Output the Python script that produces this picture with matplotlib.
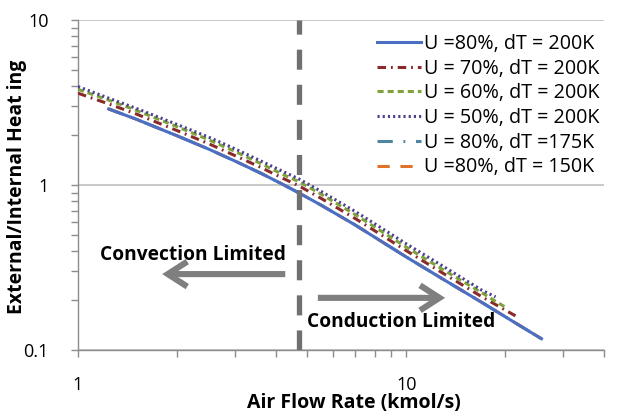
import matplotlib
matplotlib.use("Agg")
import matplotlib.pyplot as plt
from matplotlib.ticker import LogLocator, NullFormatter, FixedLocator, FixedFormatter

plt.rcParams['font.family'] = ['Open Sans', 'DejaVu Sans']

# ---- data ----
x_u80 = [1.24, 1.5, 2, 2.5, 3, 3.6, 4.2, 4.7, 5.5, 7, 10, 13, 17, 21, 25.8]
y_u80 = [2.89, 2.51, 1.99, 1.65, 1.40, 1.18, 1.01, 0.897, 0.755, 0.571, 0.366, 0.267, 0.194, 0.150, 0.117]

x_u70 = [1, 1.24, 1.5, 2, 2.5, 3, 3.6, 4.2, 4.7, 5.5, 7, 10, 13, 17, 21.5]
y_u70 = [3.6, 3.10, 2.70, 2.14, 1.78, 1.51, 1.28, 1.10, 0.99, 0.83, 0.625, 0.40, 0.29, 0.21, 0.161]

x_u60 = [1, 1.24, 1.5, 2, 2.5, 3, 3.6, 4.2, 4.7, 5.5, 7, 10, 13, 17, 20]
y_u60 = [3.8, 3.27, 2.84, 2.26, 1.88, 1.60, 1.35, 1.16, 1.05, 0.88, 0.66, 0.42, 0.305, 0.222, 0.182]

x_u50 = [1, 1.24, 1.5, 2, 2.5, 3, 3.6, 4.2, 4.7, 5.5, 7, 10, 13, 17, 18.7]
y_u50 = [3.95, 3.36, 2.92, 2.33, 1.95, 1.66, 1.40, 1.21, 1.09, 0.915, 0.69, 0.44, 0.32, 0.23, 0.21]

x_dt175 = [1.24, 1.5, 2, 2.5, 3, 3.6, 4.2, 4.7, 5.5, 7, 10, 13, 17, 21, 25.8]
y_dt175 = [2.89, 2.51, 1.99, 1.65, 1.40, 1.18, 1.01, 0.897, 0.755, 0.571, 0.366, 0.267, 0.194, 0.150, 0.117]

x_dt150 = [1.24, 1.5, 2, 2.5, 3, 3.6, 4.2, 4.7, 5.5, 7, 10, 13, 17, 21, 25.8]
y_dt150 = [2.89, 2.51, 1.99, 1.65, 1.40, 1.18, 1.01, 0.897, 0.755, 0.571, 0.366, 0.267, 0.194, 0.150, 0.117]

labels = ["U =80%, dT = 200K", "U = 70%, dT = 200K", "U = 60%, dT = 200K",
          "U = 50%, dT = 200K", "U = 80%, dT =175K", "U =80%, dT = 150K"]

boundary_x = 4.7

x_ticks = [1, 10]
x_ticklabels = ["1", "10"]
y_ticks = [0.1, 1, 10]
y_ticklabels = ["0.1", "1", "10"]

# ---- figure ----
fig = plt.figure(figsize=(6.24, 4.13), dpi=100)
ax = fig.add_axes([78/624, 1-350/413, 526/624, 330/413])
ax.set_xscale('log')
ax.set_yscale('log')
ax.set_xlim(1, 40)
ax.set_ylim(0.1, 10)

ax.grid(True, which='major', axis='y', color='#bfbfbf', lw=1.2, zorder=0)
ax.set_axisbelow(True)

LW = 2.2
h175, = ax.plot(x_dt175, y_dt175, color='#4e86a0', lw=LW, dashes=(5, 3.5, 0.6, 3.5), zorder=2)
h150, = ax.plot(x_dt150, y_dt150, color='#e07328', lw=LW, dashes=(4, 3.5), zorder=2)
h80, = ax.plot(x_u80, y_u80, color='#4a6fc5', lw=LW, zorder=3)
h70, = ax.plot(x_u70, y_u70, color='#8b2a2a', lw=LW, dashes=(2.8, 1.6, 0.6, 1.6), zorder=3)
h60, = ax.plot(x_u60, y_u60, color='#7fa33a', lw=LW, dashes=(2.0, 1.3), zorder=3)
h50, = ax.plot(x_u50, y_u50, color='#4b3f8f', lw=LW, dashes=(0.7, 1.0), zorder=4)

ax.axvline(boundary_x, color='#707070', lw=3.8, dashes=(3.8, 2.85), zorder=5)

leg = ax.legend([h80, h70, h60, h50, h175, h150], labels, loc='upper right',
                frameon=False, fontsize=14.2, handlelength=2.26, handletextpad=0.12,
                labelspacing=0.24, bbox_to_anchor=(1.006, 0.982), borderaxespad=0)

# arrows and labels
arrow_kw = dict(arrowstyle='->,head_length=1.4,head_width=0.9', color='#7f7f7f', lw=4.4,
                shrinkA=0, shrinkB=0, capstyle='butt', joinstyle='miter')
ax.annotate('', xy=(0.160, 0.230), xytext=(0.394, 0.230), xycoords='axes fraction',
            arrowprops=arrow_kw, zorder=6)
ax.annotate('', xy=(0.698, 0.158), xytext=(0.456, 0.158), xycoords='axes fraction',
            arrowprops=arrow_kw, zorder=6)
ax.text(0.042, 0.273, 'Convection Limited', transform=ax.transAxes, ha='left', va='baseline',
        fontsize=13.8, fontweight='bold', zorder=7)
ax.text(0.435, 0.070, 'Conduction Limited', transform=ax.transAxes, ha='left', va='baseline',
        fontsize=13.8, fontweight='bold', zorder=7)

# ticks
ax.xaxis.set_major_locator(FixedLocator(x_ticks))
ax.xaxis.set_major_formatter(FixedFormatter(x_ticklabels))
ax.xaxis.set_minor_locator(LogLocator(base=10, subs=range(2, 10)))
ax.xaxis.set_minor_formatter(NullFormatter())
ax.yaxis.set_major_locator(FixedLocator(y_ticks))
ax.yaxis.set_major_formatter(FixedFormatter(y_ticklabels))
ax.yaxis.set_minor_locator(LogLocator(base=10, subs=range(2, 10)))
ax.yaxis.set_minor_formatter(NullFormatter())

ax.tick_params(which='both', direction='out', length=5, width=1, color='#8c8c8c')
ax.tick_params(axis='x', which='major', labelsize=13, pad=14)
ax.tick_params(axis='y', which='major', labelsize=13, pad=16)

for s in ['top', 'right']:
    ax.spines[s].set_visible(False)
for s in ['left', 'bottom']:
    ax.spines[s].set_color('#8c8c8c')
    ax.spines[s].set_linewidth(1)

ax.set_xlabel('Air Flow Rate (kmol/s)', fontsize=14, fontweight='bold')
ax.xaxis.set_label_coords(0.525, -0.130)
ylab = ax.set_ylabel('External/Internal Heat ing', fontsize=12, fontweight='bold')
ax.yaxis.set_label_coords(-0.097, 0.495)

# fit y-label length to the reference (about 253 px)
fig.canvas.draw()
r = fig.canvas.get_renderer()
h = ylab.get_window_extent(r).height
ylab.set_fontsize(12 * 253.0 / h)

fig.savefig('out.png', dpi=100)
